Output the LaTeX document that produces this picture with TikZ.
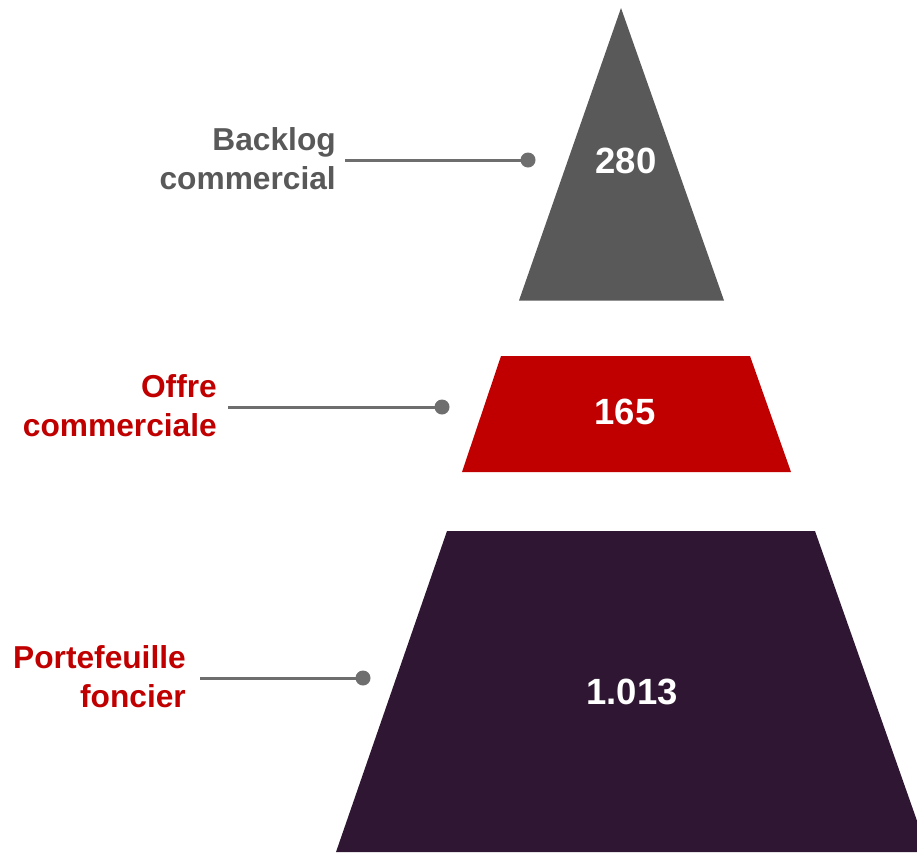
\documentclass[tikz,border=0pt]{standalone}
\usepackage{fontspec}
\setmainfont{Liberation Sans}
\definecolor{tgray}{HTML}{595959}
\definecolor{tred}{HTML}{C00000}
\definecolor{tpurple}{HTML}{2F1632}
\definecolor{lgray}{HTML}{6E6E6E}
\tikzset{
  lab/.style={anchor=east, align=right, inner sep=0pt, font=\fontsize{31.7}{39}\selectfont\bfseries},
  num/.style={text=white, inner sep=0pt, font=\fontsize{36.5}{40}\selectfont\bfseries},
  conn/.style={draw=lgray, line width=3pt, shorten <=9pt},
  dotc/.style={circle, fill=lgray, minimum size=15pt, inner sep=0pt},
}
\begin{document}
\begin{tikzpicture}[x=1pt,y=-1pt]
\useasboundingbox (0,0) rectangle (917,852);
\begin{scope}
\clip (0,0) rectangle (917,852);
\fill[tgray] (621,8) -- (724,300.5) -- (519,300.5) -- cycle;
\fill[tred] (501,356) -- (750,356) -- (791,472) -- (462,472) -- cycle;
\fill[tpurple] (447,531) -- (815,531) -- (928,852) -- (336,852) -- cycle;
\end{scope}
\node[num] (n1) at (626,161) {280};
\node[num] (n2) at (625,412) {165};
\node[num] (n3) at (632,692) {1.013};

\node[lab, text=tgray] (l1) at (336,159) {Backlog\\commercial};
\node[lab, text=tred] (l2) at (217,406) {Offre\\commerciale};
\node[lab, text=tred] (l3) at (186,677) {Portefeuille\\foncier};

\node[dotc] (d1) at (528,160) {};
\node[dotc] (d2) at (442,407) {};
\node[dotc] (d3) at (363,678) {};

\draw[conn] (l1.east |- d1) -- (d1.center);
\draw[conn, shorten <=11pt] (l2.east |- d2) -- (d2.center);
\draw[conn, shorten <=14pt] (l3.east |- d3) -- (d3.center);
\end{tikzpicture}
\end{document}
